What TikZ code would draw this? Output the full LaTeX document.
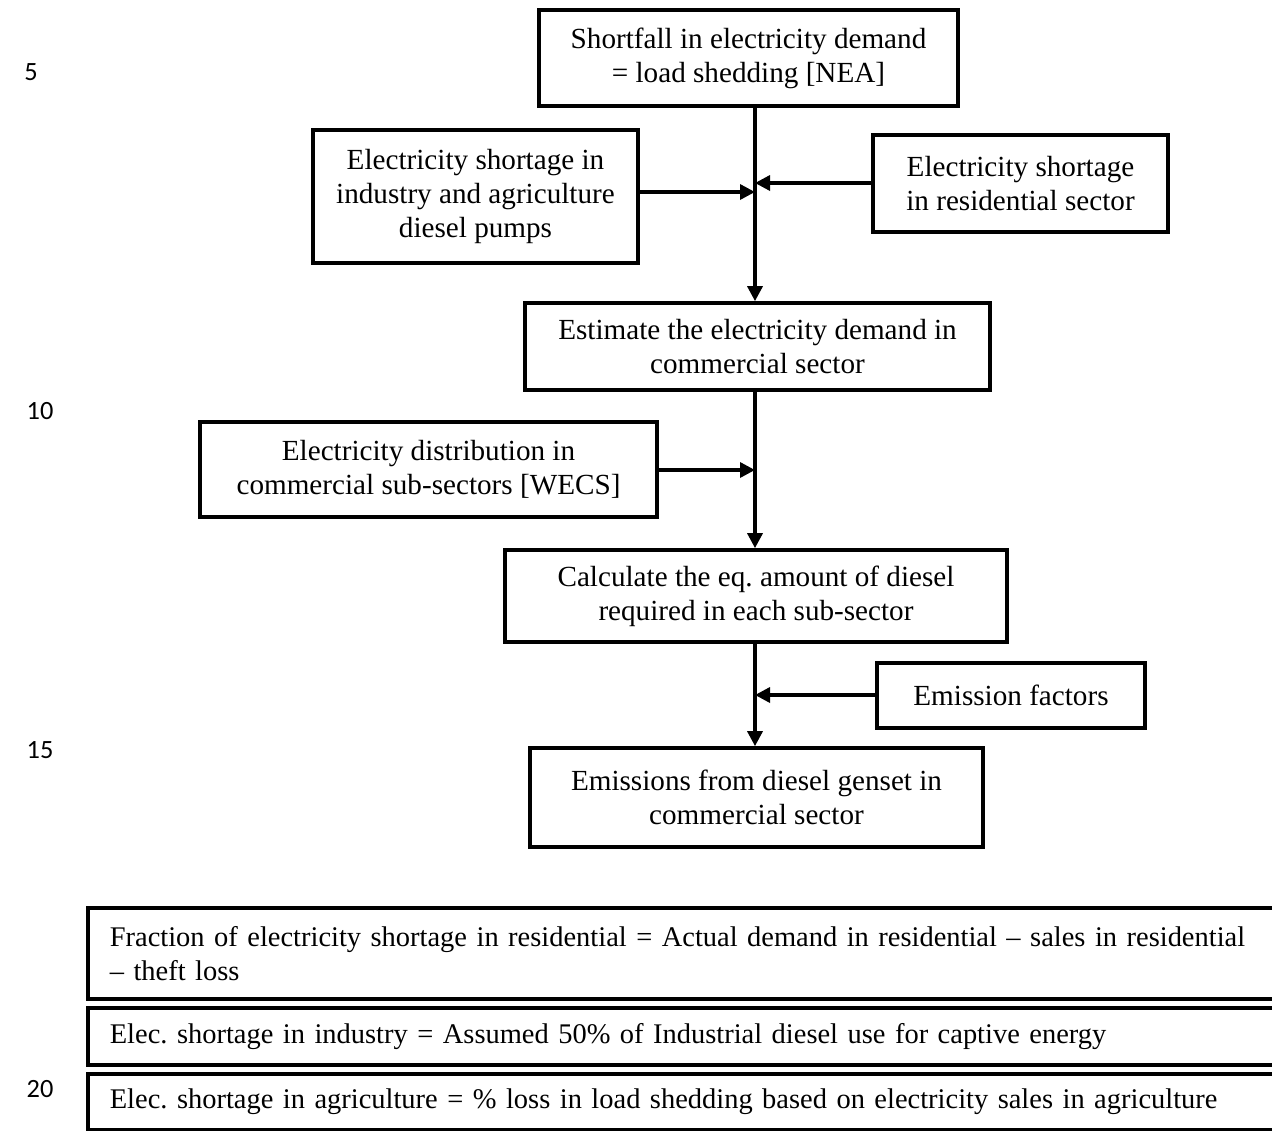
\documentclass[tikz,border=0pt]{standalone}
\usepackage{fontspec}
\setmainfont{Liberation Serif}
\newfontfamily\numfont{Carlito}
\usetikzlibrary{arrows.meta,calc}
\begin{document}
\begin{tikzpicture}[x=0.02cm,y=-0.02cm,
  box/.style={draw, line width=2.1pt, inner sep=0pt, align=center, font=\fontsize{16.6}{19.3}\selectfont\frenchspacing},
  note/.style={draw, line width=2.1pt, inner xsep=0.44cm, inner ysep=0pt, anchor=north west,
     text width=25.5cm, align=left, font=\fontsize{16.2}{19.3}\selectfont\frenchspacing},
  arr/.style={line width=1.9pt, -{Triangle[length=0.3cm,width=0.3cm]}},
  ln/.style={font=\numfont\fontsize{15}{18}\selectfont}]
\clip (0,0) rectangle (1272,1130);
\fill[white] (0,0) rectangle (1272,1130);
% line numbers
\node[ln] (n5) at (31,72) {5};
\node[ln] (n10) at (40,411) {10};
\node[ln] (n15) at (40,750) {15};
\node[ln] (n20) at (40,1089) {20};
% flowchart
\node[box, minimum width=8.38cm, minimum height=1.92cm] (top) at (748.5,58) {Shortfall in electricity demand\\= load shedding [NEA]};
\node[box, minimum width=6.5cm, minimum height=2.66cm] (ind) at (475.5,196.5) {Electricity shortage in\\industry and agriculture\\diesel pumps};
\node[box, minimum width=5.9cm, minimum height=1.94cm] (res) at (1020.5,183.5) {Electricity shortage\\in residential sector};
\node[box, minimum width=9.3cm, minimum height=1.74cm] (est) at (757.5,346.5) {Estimate the electricity demand in\\commercial sector};
\node[box, minimum width=9.14cm, minimum height=1.9cm] (dist) at (428.5,469.5) {Electricity distribution in\\commercial sub-sectors [WECS]};
\node[box, minimum width=10.04cm, minimum height=1.84cm] (calc) at (756,596) {Calculate the eq. amount of diesel\\required in each sub-sector};
\node[box, minimum width=5.36cm, minimum height=1.3cm] (ef) at (1011,695.5) {Emission factors};
\node[box, minimum width=9.06cm, minimum height=1.98cm] (emi) at (756.5,797.5) {Emissions from diesel genset in\\commercial sector};
% junction coordinates
\coordinate (jl) at (755,192);
\coordinate (jr) at (755,183);
\coordinate (jd) at (755,470);
\coordinate (je) at (755,695);
% connectors
\draw[arr] (top.south -| jl) -- (est.north -| jl);
\draw[arr] (ind.east |- jl) -- (jl);
\draw[arr] (res.west |- jr) -- (jr);
\draw[arr] (est.south -| jd) -- (calc.north -| jd);
\draw[arr] (dist.east |- jd) -- (jd);
\draw[arr] (calc.south -| je) -- (emi.north -| je);
\draw[arr] (ef.west |- je) -- (je);
% notes
\node[note, minimum height=1.82cm] (na) at (86,906) {Fraction of electricity shortage in residential = Actual demand in residential -- sales in residential\\-- theft loss};
\node[note, minimum height=1.14cm] (nb) at (86,1006) {Elec. shortage in industry = Assumed 50\% of Industrial diesel use for captive energy};
\node[note, minimum height=1.12cm] (nc) at (86,1072) {Elec. shortage in agriculture = \% loss in load shedding based on electricity sales in agriculture};
\end{tikzpicture}
\end{document}
